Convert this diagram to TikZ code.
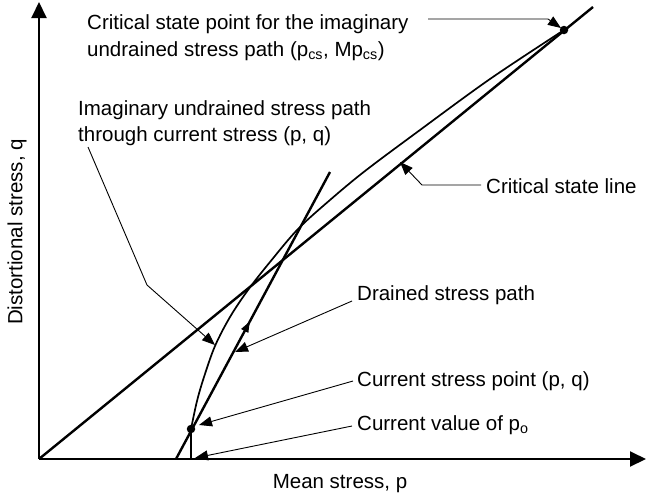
\documentclass[tikz,border=0pt]{standalone}
\usepackage{fontspec}
\setmainfont{Liberation Sans}
\usetikzlibrary{arrows.meta,decorations.markings}

\begin{document}
\begin{tikzpicture}[x=1pt,y=-1pt,
  lbl/.style={anchor=base west, inner sep=0pt, font=\fontsize{20.5}{25}\selectfont},
  axis/.style={line width=2pt, -{Triangle[length=16pt,width=15pt]}},
  heavy/.style={line width=2.4pt},
  pathcurve/.style={line width=1.7pt},
  leader/.style={line width=0.9pt, -{Triangle[length=13pt,width=10pt]}},
  dot/.style={circle, fill=black, inner sep=0pt, minimum size=8.5pt},
  midarrow/.style={postaction={decorate}, decoration={markings,
      mark=at position #1 with {\arrow{Triangle[length=11pt,width=7.5pt]}}}}]
\useasboundingbox (0,0) rectangle (650,499);

% axes
\coordinate (O) at (39,459);
\coordinate (xend) at (646,459);
\coordinate (yend) at (39,2);
\draw[axis] (O) -- (xend);
\draw[axis] (O) -- (yend);
\node[inner sep=0pt, font=\fontsize{20.5}{25}\selectfont] (xlab) at (340,484) {Mean stress, p};
\node[inner sep=0pt, rotate=90, font=\fontsize{20.5}{25}\selectfont] (ylab) at (17,232) {Distortional stress, q};

% critical state line
\coordinate (cslend) at (593,7);
\draw[heavy] (O) -- (cslend);

% key points
\node[dot] (cs) at (564,30) {};
\node[dot] (cur) at (191,429) {};
\coordinate (po) at (191,459);

% drained stress path
\coordinate (d0) at (176,459);
\coordinate (d1) at (330,172);
\draw[heavy, midarrow=0.48] (d0) -- (d1);

% imaginary undrained stress path
\draw[pathcurve] (po) -- (cur.center)
  plot[smooth, tension=0.55] coordinates {(191,429) (197,401) (204,377) (215,346)
    (230,317) (248,290) (270,262) (298,229) (330,200) (365,171) (420,130)
    (490,79) (564,30)};

% labels
\node[lbl] (l1a) at (87,29) {Critical state point for the imaginary};
\node[lbl] (l1b) at (87,56) {undrained stress path (p\textsubscript{cs}, Mp\textsubscript{cs})};
\node[lbl] (l2a) at (78,115) {Imaginary undrained stress path};
\node[lbl] (l2b) at (78,141) {through current stress (p, q)};
\node[lbl] (l3) at (486,193) {Critical state line};
\node[lbl] (l4) at (357,300) {Drained stress path};
\node[lbl] (l5) at (357,386) {Current stress point (p, q)};
\node[lbl] (l6) at (357,430) {Current value of p\textsubscript{o}};

% leaders
\coordinate (s1) at (428,19);
\coordinate (b1) at (548,19);
\coordinate (t1) at (561,28);
\draw[leader] (s1) -- (b1) -- (t1);

\coordinate (s2) at (88,147);
\coordinate (b2) at (147,285);
\coordinate (t2) at (215,345);
\draw[leader] (s2) -- (b2) -- (t2);

\coordinate (s3) at (481,185);
\coordinate (b3) at (422,185);
\coordinate (t3) at (400,162);
\draw[leader] (s3) -- (b3) -- (t3);

\coordinate (s4) at (352,301);
\coordinate (t4) at (235,352);
\draw[leader] (s4) -- (t4);

\coordinate (s5) at (353,381);
\coordinate (t5) at (199,425);
\draw[leader] (s5) -- (t5);

\coordinate (s6) at (352,426);
\coordinate (t6) at (195,458);
\draw[leader] (s6) -- (t6);
\end{tikzpicture}
\end{document}
